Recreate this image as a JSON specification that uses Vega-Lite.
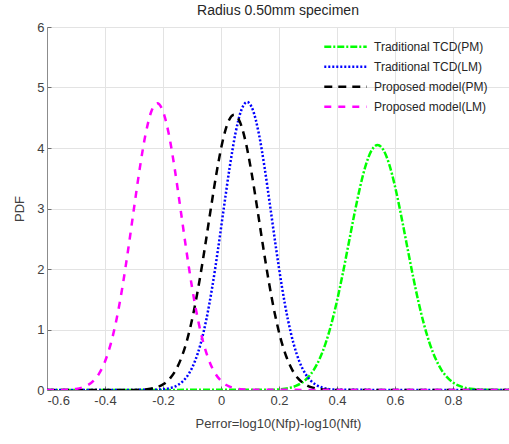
{
  "$schema": "https://vega.github.io/schema/vega-lite/v6.json",
  "width": 462,
  "height": 363,
  "autosize": "none",
  "padding": {"left": 47, "top": 27, "right": 0, "bottom": 54},
  "background": "white",
  "config": {
    "font": "Liberation Sans",
    "view": {"stroke": "#8c8c8c", "strokeWidth": 1},
    "axis": {
      "labelFont": "Liberation Sans",
      "titleFont": "Liberation Sans",
      "labelFontSize": 13,
      "titleFontSize": 13,
      "titleFontWeight": "normal",
      "labelColor": "#404040",
      "titleColor": "#404040",
      "domainColor": "#8c8c8c",
      "tickColor": "#6e6e6e",
      "gridColor": "#e3e3e3",
      "gridWidth": 1
    }
  },
  "title": {
    "text": "Radius 0.50mm specimen",
    "fontSize": 14,
    "fontWeight": "normal",
    "font": "Liberation Sans",
    "color": "#262626",
    "offset": 3
  },
  "datasets": {
    "curves": [
      {"series": "Traditional TCD(PM)", "x": -0.6, "y": 0},
      {"series": "Traditional TCD(PM)", "x": 0.18, "y": 0.005},
      {"series": "Traditional TCD(PM)", "x": 0.20, "y": 0.010},
      {"series": "Traditional TCD(PM)", "x": 0.22, "y": 0.021},
      {"series": "Traditional TCD(PM)", "x": 0.24, "y": 0.039},
      {"series": "Traditional TCD(PM)", "x": 0.26, "y": 0.071},
      {"series": "Traditional TCD(PM)", "x": 0.28, "y": 0.124},
      {"series": "Traditional TCD(PM)", "x": 0.30, "y": 0.208},
      {"series": "Traditional TCD(PM)", "x": 0.32, "y": 0.334},
      {"series": "Traditional TCD(PM)", "x": 0.34, "y": 0.516},
      {"series": "Traditional TCD(PM)", "x": 0.36, "y": 0.763},
      {"series": "Traditional TCD(PM)", "x": 0.38, "y": 1.083},
      {"series": "Traditional TCD(PM)", "x": 0.40, "y": 1.475},
      {"series": "Traditional TCD(PM)", "x": 0.42, "y": 1.928},
      {"series": "Traditional TCD(PM)", "x": 0.44, "y": 2.419},
      {"series": "Traditional TCD(PM)", "x": 0.46, "y": 2.912},
      {"series": "Traditional TCD(PM)", "x": 0.48, "y": 3.364},
      {"series": "Traditional TCD(PM)", "x": 0.50, "y": 3.730},
      {"series": "Traditional TCD(PM)", "x": 0.52, "y": 3.967},
      {"series": "Traditional TCD(PM)", "x": 0.54, "y": 4.05},
      {"series": "Traditional TCD(PM)", "x": 0.56, "y": 3.967},
      {"series": "Traditional TCD(PM)", "x": 0.58, "y": 3.730},
      {"series": "Traditional TCD(PM)", "x": 0.60, "y": 3.364},
      {"series": "Traditional TCD(PM)", "x": 0.62, "y": 2.912},
      {"series": "Traditional TCD(PM)", "x": 0.64, "y": 2.419},
      {"series": "Traditional TCD(PM)", "x": 0.66, "y": 1.928},
      {"series": "Traditional TCD(PM)", "x": 0.68, "y": 1.475},
      {"series": "Traditional TCD(PM)", "x": 0.70, "y": 1.083},
      {"series": "Traditional TCD(PM)", "x": 0.72, "y": 0.763},
      {"series": "Traditional TCD(PM)", "x": 0.74, "y": 0.516},
      {"series": "Traditional TCD(PM)", "x": 0.76, "y": 0.334},
      {"series": "Traditional TCD(PM)", "x": 0.78, "y": 0.208},
      {"series": "Traditional TCD(PM)", "x": 0.80, "y": 0.124},
      {"series": "Traditional TCD(PM)", "x": 0.82, "y": 0.071},
      {"series": "Traditional TCD(PM)", "x": 0.84, "y": 0.039},
      {"series": "Traditional TCD(PM)", "x": 0.86, "y": 0.021},
      {"series": "Traditional TCD(PM)", "x": 0.88, "y": 0.010},
      {"series": "Traditional TCD(PM)", "x": 0.90, "y": 0.005},
      {"series": "Traditional TCD(PM)", "x": 1.0, "y": 0},

      {"series": "Traditional TCD(LM)", "x": -0.6, "y": 0},
      {"series": "Traditional TCD(LM)", "x": -0.23, "y": 0.003},
      {"series": "Traditional TCD(LM)", "x": -0.21, "y": 0.008},
      {"series": "Traditional TCD(LM)", "x": -0.19, "y": 0.018},
      {"series": "Traditional TCD(LM)", "x": -0.17, "y": 0.039},
      {"series": "Traditional TCD(LM)", "x": -0.15, "y": 0.079},
      {"series": "Traditional TCD(LM)", "x": -0.13, "y": 0.152},
      {"series": "Traditional TCD(LM)", "x": -0.11, "y": 0.276},
      {"series": "Traditional TCD(LM)", "x": -0.09, "y": 0.474},
      {"series": "Traditional TCD(LM)", "x": -0.07, "y": 0.769},
      {"series": "Traditional TCD(LM)", "x": -0.05, "y": 1.179},
      {"series": "Traditional TCD(LM)", "x": -0.03, "y": 1.707},
      {"series": "Traditional TCD(LM)", "x": -0.01, "y": 2.336},
      {"series": "Traditional TCD(LM)", "x": 0.01, "y": 3.018},
      {"series": "Traditional TCD(LM)", "x": 0.03, "y": 3.684},
      {"series": "Traditional TCD(LM)", "x": 0.05, "y": 4.247},
      {"series": "Traditional TCD(LM)", "x": 0.07, "y": 4.626},
      {"series": "Traditional TCD(LM)", "x": 0.09, "y": 4.76},
      {"series": "Traditional TCD(LM)", "x": 0.11, "y": 4.626},
      {"series": "Traditional TCD(LM)", "x": 0.13, "y": 4.247},
      {"series": "Traditional TCD(LM)", "x": 0.15, "y": 3.684},
      {"series": "Traditional TCD(LM)", "x": 0.17, "y": 3.018},
      {"series": "Traditional TCD(LM)", "x": 0.19, "y": 2.336},
      {"series": "Traditional TCD(LM)", "x": 0.21, "y": 1.707},
      {"series": "Traditional TCD(LM)", "x": 0.23, "y": 1.179},
      {"series": "Traditional TCD(LM)", "x": 0.25, "y": 0.769},
      {"series": "Traditional TCD(LM)", "x": 0.27, "y": 0.474},
      {"series": "Traditional TCD(LM)", "x": 0.29, "y": 0.276},
      {"series": "Traditional TCD(LM)", "x": 0.31, "y": 0.152},
      {"series": "Traditional TCD(LM)", "x": 0.33, "y": 0.079},
      {"series": "Traditional TCD(LM)", "x": 0.35, "y": 0.039},
      {"series": "Traditional TCD(LM)", "x": 0.37, "y": 0.018},
      {"series": "Traditional TCD(LM)", "x": 0.39, "y": 0.008},
      {"series": "Traditional TCD(LM)", "x": 0.41, "y": 0.003},
      {"series": "Traditional TCD(LM)", "x": 1.0, "y": 0},

      {"series": "Proposed model(PM)", "x": -0.6, "y": 0},
      {"series": "Proposed model(PM)", "x": -0.295, "y": 0.002},
      {"series": "Proposed model(PM)", "x": -0.275, "y": 0.006},
      {"series": "Proposed model(PM)", "x": -0.255, "y": 0.013},
      {"series": "Proposed model(PM)", "x": -0.235, "y": 0.028},
      {"series": "Proposed model(PM)", "x": -0.215, "y": 0.056},
      {"series": "Proposed model(PM)", "x": -0.195, "y": 0.108},
      {"series": "Proposed model(PM)", "x": -0.175, "y": 0.196},
      {"series": "Proposed model(PM)", "x": -0.155, "y": 0.338},
      {"series": "Proposed model(PM)", "x": -0.135, "y": 0.554},
      {"series": "Proposed model(PM)", "x": -0.115, "y": 0.861},
      {"series": "Proposed model(PM)", "x": -0.095, "y": 1.273},
      {"series": "Proposed model(PM)", "x": -0.075, "y": 1.785},
      {"series": "Proposed model(PM)", "x": -0.055, "y": 2.375},
      {"series": "Proposed model(PM)", "x": -0.035, "y": 3.001},
      {"series": "Proposed model(PM)", "x": -0.015, "y": 3.600},
      {"series": "Proposed model(PM)", "x": 0.005, "y": 4.100},
      {"series": "Proposed model(PM)", "x": 0.025, "y": 4.433},
      {"series": "Proposed model(PM)", "x": 0.045, "y": 4.55},
      {"series": "Proposed model(PM)", "x": 0.065, "y": 4.433},
      {"series": "Proposed model(PM)", "x": 0.085, "y": 4.100},
      {"series": "Proposed model(PM)", "x": 0.105, "y": 3.600},
      {"series": "Proposed model(PM)", "x": 0.125, "y": 3.001},
      {"series": "Proposed model(PM)", "x": 0.145, "y": 2.375},
      {"series": "Proposed model(PM)", "x": 0.165, "y": 1.785},
      {"series": "Proposed model(PM)", "x": 0.185, "y": 1.273},
      {"series": "Proposed model(PM)", "x": 0.205, "y": 0.861},
      {"series": "Proposed model(PM)", "x": 0.225, "y": 0.554},
      {"series": "Proposed model(PM)", "x": 0.245, "y": 0.338},
      {"series": "Proposed model(PM)", "x": 0.265, "y": 0.196},
      {"series": "Proposed model(PM)", "x": 0.285, "y": 0.108},
      {"series": "Proposed model(PM)", "x": 0.305, "y": 0.056},
      {"series": "Proposed model(PM)", "x": 0.325, "y": 0.028},
      {"series": "Proposed model(PM)", "x": 0.345, "y": 0.013},
      {"series": "Proposed model(PM)", "x": 0.365, "y": 0.006},
      {"series": "Proposed model(PM)", "x": 0.385, "y": 0.002},
      {"series": "Proposed model(PM)", "x": 1.0, "y": 0},

      {"series": "Proposed model(LM)", "x": -0.6, "y": 0},
      {"series": "Proposed model(LM)", "x": -0.54, "y": 0.003},
      {"series": "Proposed model(LM)", "x": -0.52, "y": 0.008},
      {"series": "Proposed model(LM)", "x": -0.50, "y": 0.018},
      {"series": "Proposed model(LM)", "x": -0.48, "y": 0.039},
      {"series": "Proposed model(LM)", "x": -0.46, "y": 0.078},
      {"series": "Proposed model(LM)", "x": -0.44, "y": 0.151},
      {"series": "Proposed model(LM)", "x": -0.42, "y": 0.275},
      {"series": "Proposed model(LM)", "x": -0.40, "y": 0.472},
      {"series": "Proposed model(LM)", "x": -0.38, "y": 0.766},
      {"series": "Proposed model(LM)", "x": -0.36, "y": 1.174},
      {"series": "Proposed model(LM)", "x": -0.34, "y": 1.700},
      {"series": "Proposed model(LM)", "x": -0.32, "y": 2.326},
      {"series": "Proposed model(LM)", "x": -0.30, "y": 3.005},
      {"series": "Proposed model(LM)", "x": -0.28, "y": 3.668},
      {"series": "Proposed model(LM)", "x": -0.26, "y": 4.230},
      {"series": "Proposed model(LM)", "x": -0.24, "y": 4.607},
      {"series": "Proposed model(LM)", "x": -0.22, "y": 4.74},
      {"series": "Proposed model(LM)", "x": -0.20, "y": 4.607},
      {"series": "Proposed model(LM)", "x": -0.18, "y": 4.230},
      {"series": "Proposed model(LM)", "x": -0.16, "y": 3.668},
      {"series": "Proposed model(LM)", "x": -0.14, "y": 3.005},
      {"series": "Proposed model(LM)", "x": -0.12, "y": 2.326},
      {"series": "Proposed model(LM)", "x": -0.10, "y": 1.700},
      {"series": "Proposed model(LM)", "x": -0.08, "y": 1.174},
      {"series": "Proposed model(LM)", "x": -0.06, "y": 0.766},
      {"series": "Proposed model(LM)", "x": -0.04, "y": 0.472},
      {"series": "Proposed model(LM)", "x": -0.02, "y": 0.275},
      {"series": "Proposed model(LM)", "x": 0.00, "y": 0.151},
      {"series": "Proposed model(LM)", "x": 0.02, "y": 0.078},
      {"series": "Proposed model(LM)", "x": 0.04, "y": 0.039},
      {"series": "Proposed model(LM)", "x": 0.06, "y": 0.018},
      {"series": "Proposed model(LM)", "x": 0.08, "y": 0.008},
      {"series": "Proposed model(LM)", "x": 0.10, "y": 0.003},
      {"series": "Proposed model(LM)", "x": 1.0, "y": 0}
    ]
  },
  "layer": [
    {
      "mark": {"type": "rule", "color": "#64a8d8", "strokeWidth": 1, "strokeDash": [6, 4]},
      "encoding": {
        "x": {"datum": 0, "type": "quantitative"}
      }
    },
    {
      "data": {"name": "curves"},
      "mark": {"type": "line", "strokeWidth": 2.5, "interpolate": "monotone", "clip": true},
      "encoding": {
        "x": {
          "field": "x",
          "type": "quantitative",
          "scale": {"domain": [-0.6, 0.993], "nice": false, "zero": false},
          "axis": {
            "values": [-0.6, -0.4, -0.2, 0, 0.2, 0.4, 0.6, 0.8],
            "format": ".1~f",
            "labelExpr": "replace(datum.label, '\u2212', '-')",
            "grid": true,
            "tickSize": -4,
            "labelPadding": 8,
            "title": "Perror=log10(Nfp)-log10(Nft)",
            "titlePadding": 10
          }
        },
        "y": {
          "field": "y",
          "type": "quantitative",
          "scale": {"domain": [0, 6], "nice": false},
          "axis": {
            "values": [0, 1, 2, 3, 4, 5, 6],
            "grid": true,
            "tickSize": -4,
            "labelPadding": 7,
            "title": "PDF",
            "titlePadding": 10
          }
        },
        "color": {
          "field": "series",
          "type": "nominal",
          "scale": {
            "domain": ["Traditional TCD(PM)", "Traditional TCD(LM)", "Proposed model(PM)", "Proposed model(LM)"],
            "range": ["#00ff00", "#0000ff", "#000000", "#ff00ff"]
          },
          "legend": {
            "title": null,
            "orient": "none",
            "legendX": 276,
            "legendY": 10,
            "symbolType": "stroke",
            "symbolSize": 1800,
            "symbolStrokeWidth": 2.5,
            "labelFontSize": 12,
            "labelFont": "Liberation Sans",
            "labelColor": "#262626",
            "rowPadding": 0,
            "clipHeight": 19.7,
            "labelOffset": 6
          }
        },
        "strokeDash": {
          "field": "series",
          "type": "nominal",
          "scale": {
            "domain": ["Traditional TCD(PM)", "Traditional TCD(LM)", "Proposed model(PM)", "Proposed model(LM)"],
            "range": [[7, 2, 2, 2], [2, 2], [8, 6], [7, 7]]
          },
          "legend": null
        }
      }
    }
  ]
}
